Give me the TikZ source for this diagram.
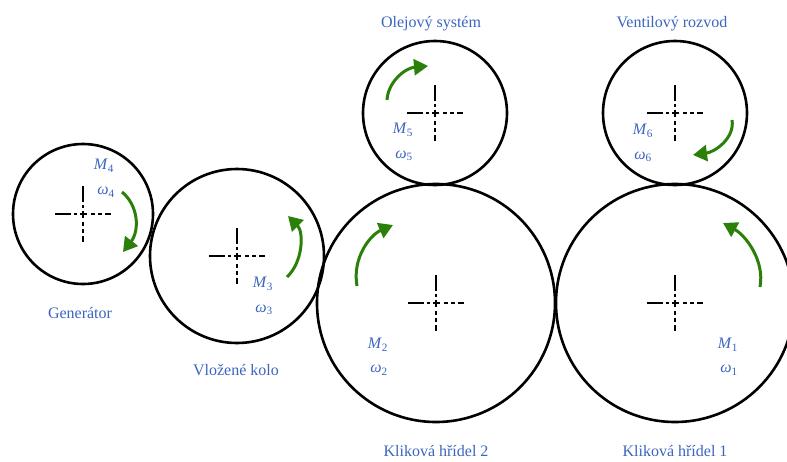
\documentclass[tikz,border=0pt]{standalone}
\usepackage{fontspec}
\setmainfont{Liberation Serif}
\usetikzlibrary{arrows.meta}
\definecolor{labblue}{RGB}{58,100,190}
\definecolor{arrgreen}{RGB}{42,128,8}
\newcommand\qtylab[2]{\textit{#1}\textsubscript{#2}}
\tikzset{
  gear/.style={draw=black,line width=2.6pt},
  crossline/.style={draw=black,line width=2.6pt},
  rot/.style={draw=arrgreen,line width=3pt,-{Triangle[length=14pt,width=16pt]}},
  gearname/.style={text=labblue,font=\fontsize{16}{19}\selectfont,inner sep=0pt},
  qlab/.style={text=labblue,font=\fontsize{16}{19}\selectfont,inner sep=0pt},
  gearcross/.pic={
    \foreach \a/\b in {-28/-12,-9/-6,-3/4,8/12,15/19,22/28}
      \draw[crossline] (\a,0) -- (\b,0);
    \foreach \a/\b in {-28/-12,-9/-6,-3/4,8/12,15/19,22/28}
      \draw[crossline] (0,\a) -- (0,\b);
  }
}
\begin{document}
\begin{tikzpicture}[x=1pt,y=-1pt]
\useasboundingbox (0,0) rectangle (787,461);
\clip (0,0) rectangle (787,461);
% gears
\node[gear,circle,minimum size=140pt,inner sep=0pt] (g4) at (83,214) {};
\node[gear,circle,minimum size=174pt,inner sep=0pt] (g3) at (237,256) {};
\node[gear,circle,minimum size=238pt,inner sep=0pt] (g2) at (436,303) {};
\node[gear,circle,minimum size=238pt,inner sep=0pt] (g1) at (675,303) {};
\node[gear,circle,minimum size=144pt,inner sep=0pt] (g5) at (435,113) {};
\node[gear,circle,minimum size=144pt,inner sep=0pt] (g6) at (675,113) {};
% crosses
\foreach \g in {g1,g2,g3,g4,g5,g6}
  \pic at (\g.center) {gearcross};
% names
\node[gearname] (n4) at (80,313) {Generátor};
\node[gearname] (n3) at (236,370) {Vložené kolo};
\node[gearname] (n2) at (436,451) {Kliková hřídel 2};
\node[gearname] (n1) at (675,451) {Kliková hřídel 1};
\node[gearname] (n5) at (431,24) {Olejový systém};
\node[gearname] (n6) at (672,24) {Ventilový rozvod};
% quantities
\node[qlab] (m4) at (104,166) {\qtylab{M}{4}};
\node[qlab] (w4) at (106,192) {\qtylab{ω}{4}};
\node[qlab] (m3) at (263,284) {\qtylab{M}{3}};
\node[qlab] (w3) at (264,310) {\qtylab{ω}{3}};
\node[qlab] (m5) at (403,130) {\qtylab{M}{5}};
\node[qlab] (w5) at (404,156) {\qtylab{ω}{5}};
\node[qlab] (m6) at (643,131) {\qtylab{M}{6}};
\node[qlab] (w6) at (643,157) {\qtylab{ω}{6}};
\node[qlab] (m2) at (378,345) {\qtylab{M}{2}};
\node[qlab] (w2) at (379,370) {\qtylab{ω}{2}};
\node[qlab] (m1) at (728,345) {\qtylab{M}{1}};
\node[qlab] (w1) at (729,370) {\qtylab{ω}{1}};
% rotation arrows
\coordinate (a4s) at (122,192); \coordinate (a4e) at (123,252);
\draw[rot] (a4s) .. controls (138,205) and (140,230) .. (a4e);
\coordinate (a3s) at (287,277); \coordinate (a3e) at (288,216);
\draw[rot] (a3s) .. controls (303,262) and (304,232) .. (a3e);
\coordinate (a5s) at (387,100); \coordinate (a5e) at (428,66);
\draw[rot] (a5s) .. controls (388,82) and (405,68) .. (a5e);
\coordinate (a6s) at (732,120); \coordinate (a6e) at (693,155);
\draw[rot] (a6s) .. controls (735,138) and (715,152) .. (a6e);
\coordinate (a2s) at (357,286); \coordinate (a2e) at (393,225);
\draw[rot] (a2s) .. controls (352,258) and (370,235) .. (a2e);
\coordinate (a1s) at (760,287); \coordinate (a1e) at (723,223);
\draw[rot] (a1s) .. controls (765,260) and (745,235) .. (a1e);
\end{tikzpicture}
\end{document}
